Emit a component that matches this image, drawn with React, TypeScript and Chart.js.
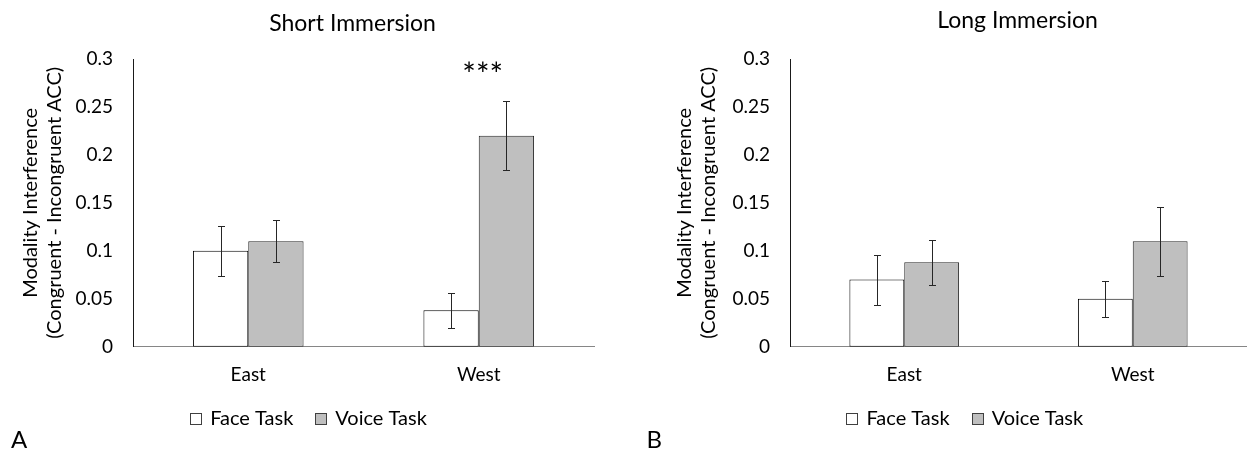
import React, { useEffect, useRef } from 'react';
import { Chart, registerables } from 'chart.js';

Chart.register(...registerables);

// ---- data ----
const categories = ['East', 'West'];
const seriesNames = ['Face Task', 'Voice Task'];
const yTickLabels = ['0', '0.05', '0.1', '0.15', '0.2', '0.25', '0.3'];
const yAxisTitle = ['Modality Interference', '(Congruent - Incongruent ACC)'];

const shortFace = [0.1, 0.038];
const shortFaceErr = [0.026, 0.018];
const shortVoice = [0.11, 0.22];
const shortVoiceErr = [0.022, 0.036];
const shortSig = ['', '***'];

const longFace = [0.07, 0.05];
const longFaceErr = [0.026, 0.019];
const longVoice = [0.088, 0.11];
const longVoiceErr = [0.0235, 0.036];
const longSig = ['', ''];

const FONT = 'Lato, "Open Sans", sans-serif';
const H = 451;

const decorPlugin = {
  id: 'decor',
  afterDatasetsDraw(chart: any) {
    const ctx = chart.ctx as CanvasRenderingContext2D;
    const y = chart.scales.y;
    ctx.save();
    chart.data.datasets.forEach((ds: any, i: number) => {
      const meta = chart.getDatasetMeta(i);
      meta.data.forEach((bar: any, j: number) => {
        const v = ds.data[j];
        const e = ds.errors[j];
        const x = Math.round(bar.x) + 0.5;
        const yt = Math.round(y.getPixelForValue(v + e)) + 0.5;
        const yb = Math.round(y.getPixelForValue(v - e)) + 0.5;
        ctx.strokeStyle = '#262626';
        ctx.lineWidth = 1;
        ctx.beginPath();
        ctx.moveTo(x, yt);
        ctx.lineTo(x, yb);
        ctx.moveTo(x - 3.5, yt);
        ctx.lineTo(x + 3.5, yt);
        ctx.moveTo(x - 3.5, yb);
        ctx.lineTo(x + 3.5, yb);
        ctx.stroke();
      });
    });
    ctx.restore();
  },
  afterDraw(chart: any, _args: any, opts: any) {
    const ctx = chart.ctx as CanvasRenderingContext2D;
    const xs = chart.scales.x;
    ctx.save();
    ctx.fillStyle = '#000';
    // title
    ctx.font = `23px ${FONT}`;
    ctx.textAlign = 'center';
    ctx.textBaseline = 'alphabetic';
    ctx.fillText(opts.title, opts.titleX, opts.titleY);
    // significance markers
    ctx.font = `32px ${FONT}`;
    (opts.sig as string[]).forEach((s, j) => {
      if (!s) return;
      ctx.fillText(s, xs.getPixelForValue(j) + 4, opts.sigY);
    });
    // legend
    ctx.font = `20px ${FONT}`;
    ctx.textAlign = 'left';
    const box = 11, gapText = 9, gapItem = 22;
    const items = chart.data.datasets.map((ds: any) => ({
      label: ds.label,
      fill: ds.backgroundColor,
      stroke: ds.legendStroke,
      w: box + gapText + ctx.measureText(ds.label).width,
    }));
    const total = items.reduce((a: number, it: any) => a + it.w, 0) + gapItem * (items.length - 1);
    let lx = opts.legendX - total / 2;
    const base = opts.legendY;
    items.forEach((it: any) => {
      const bx = Math.round(lx) + 0.5;
      ctx.fillStyle = it.fill;
      ctx.fillRect(bx, base - 12 + 0.5, box, box);
      ctx.strokeStyle = it.stroke;
      ctx.lineWidth = 1;
      ctx.strokeRect(bx, base - 12 + 0.5, box, box);
      ctx.fillStyle = '#000';
      ctx.fillText(it.label, lx + box + gapText, base);
      lx += it.w + gapItem;
    });
    // panel letter
    ctx.font = `24px ${FONT}`;
    ctx.fillText(opts.letter, opts.letterX, opts.letterY);
    ctx.restore();
  },
};

type PanelProps = {
  left: number;
  width: number;
  face: number[];
  faceErr: number[];
  voice: number[];
  voiceErr: number[];
  sig: string[];
  title: string;
  titleX: number;
  titleY: number;
  legendX: number;
  letter: string;
  letterX: number;
  yAxisWidth: number;
  padRight: number;
  yTitlePad: number;
};

function Panel(p: PanelProps) {
  const ref = useRef<HTMLCanvasElement>(null);
  useEffect(() => {
    if (!ref.current) return;
    const chart = new Chart(ref.current, {
      type: 'bar',
      data: {
        labels: categories,
        datasets: [
          {
            label: seriesNames[0],
            data: p.face,
            errors: p.faceErr,
            legendStroke: '#404040',
            backgroundColor: '#FFFFFF',
            borderColor: '#000000',
            borderWidth: 1,
            borderSkipped: false,
            categoryPercentage: 0.48,
            barPercentage: 1,
          } as any,
          {
            label: seriesNames[1],
            data: p.voice,
            errors: p.voiceErr,
            legendStroke: '#404040',
            backgroundColor: '#BFBFBF',
            borderColor: '#262626',
            borderWidth: 1,
            borderSkipped: false,
            categoryPercentage: 0.48,
            barPercentage: 1,
          } as any,
        ],
      },
      options: {
        animation: false,
        responsive: false,
        layout: { padding: { top: 59, bottom: 0, left: 0, right: p.padRight } },
        plugins: {
          legend: { display: false },
          title: { display: false },
          tooltip: { enabled: false },
          decor: {
            title: p.title,
            titleX: p.titleX,
            titleY: p.titleY,
            sig: p.sig,
            sigY: 86,
            legendX: p.legendX,
            legendY: 425,
            letter: p.letter,
            letterX: p.letterX,
            letterY: 448,
          },
        } as any,
        scales: {
          x: {
            grid: { display: false, drawTicks: false },
            border: { display: true, color: '#868686', width: 1 },
            ticks: { font: { family: FONT, size: 19 }, color: '#000', padding: 17 },
            afterFit: (s: any) => {
              s.height = H - 346.7;
            },
          },
          y: {
            min: 0,
            max: 0.3,
            ticks: {
              stepSize: 0.05,
              callback: (_v: any, i: number) => yTickLabels[i],
              font: { family: FONT, size: 19 },
              color: '#000',
              padding: 20,
            },
            grid: { display: false, drawTicks: false },
            border: { display: true, color: '#1a1a1a', width: 1 },
            title: {
              display: true,
              text: yAxisTitle,
              font: { family: FONT, size: 20 },
              color: '#000',
              padding: { top: p.yTitlePad, bottom: 0 },
            },
            afterFit: (s: any) => {
              s.width = p.yAxisWidth;
            },
          },
        },
      } as any,
      plugins: [decorPlugin as any],
    });
    return () => chart.destroy();
  }, []);
  return (
    <canvas
      ref={ref}
      width={p.width}
      height={H}
      style={{ position: 'absolute', left: p.left, top: 0, width: p.width, height: H }}
    />
  );
}

export default function App() {
  return (
    <div style={{ position: 'absolute', left: 0, top: 0, width: 1247, height: H, background: '#fff' }}>
      <Panel
        left={0}
        width={620}
        face={shortFace}
        faceErr={shortFaceErr}
        voice={shortVoice}
        voiceErr={shortVoiceErr}
        sig={shortSig}
        title="Short Immersion"
        titleX={352.5}
        titleY={30.5}
        legendX={308.5}
        letter="A"
        letterX={11}
        yAxisWidth={133}
        padRight={26}
        yTitlePad={19}
      />
      <Panel
        left={620}
        width={627}
        face={longFace}
        faceErr={longFaceErr}
        voice={longVoice}
        voiceErr={longVoiceErr}
        sig={longSig}
        title="Long Immersion"
        titleX={397.5}
        titleY={27.5}
        legendX={344.8}
        letter="B"
        letterX={26.5}
        yAxisWidth={170}
        padRight={0}
        yTitlePad={53}
      />
    </div>
  );
}
